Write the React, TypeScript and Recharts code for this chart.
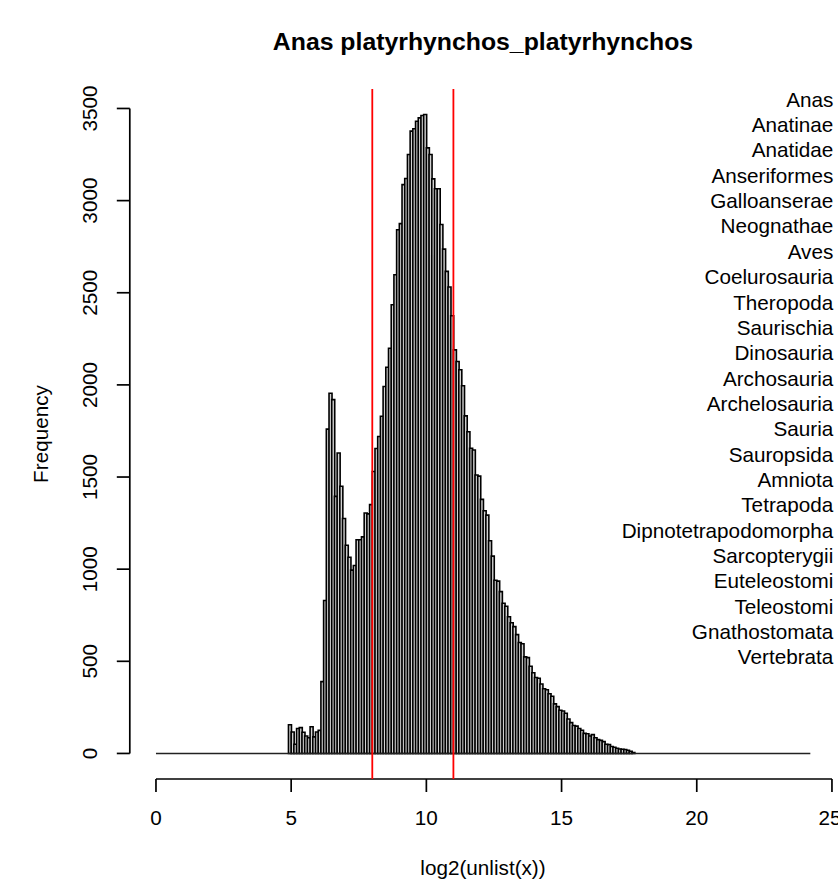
import { BarChart, Bar, XAxis, YAxis, ReferenceLine } from "recharts";

// histogram of log2 values, bins of 0.1 starting at 4.9 (all other bins are empty)
const binStart = 4.9;
const binWidth = 0.1;
const breakRange = [0, 24.2];
const counts = [
  156, 116, 50, 135, 140, 115, 95, 85, 145, 90, 116, 125, // 4.9 - 6.0
  390, 830, 1760, 1955, 1920, 1395, 1630, 1450, 1275, 1130, // 6.1 - 7.0
  1065, 995, 1020, 1160, 1160, 1175, 1305, 1300, 1350, 1530, // 7.1 - 8.0
  1655, 1720, 1830, 1991, 2096, 2199, 2435, 2598, 2842, 2875, // 8.1 - 9.0
  3087, 3120, 3250, 3377, 3390, 3431, 3449, 3462, 3467, 3286, // 9.1 - 10.0
  3250, 3118, 3064, 3064, 2870, 2737, 2616, 2531, 2375, 2190, // 10.1 - 11.0
  2127, 2082, 1995, 1832, 1746, 1656, 1647, 1511, 1505, 1379, // 11.1 - 12.0
  1317, 1293, 1154, 1071, 940, 935, 878, 815, 799, 742, // 12.1 - 13.0
  709, 688, 645, 602, 595, 524, 520, 473, 438, 412, // 13.1 - 14.0
  408, 377, 351, 346, 324, 310, 269, 254, 234, 230, // 14.1 - 15.0
  218, 187, 167, 152, 148, 135, 126, 109, 107, 95, // 15.1 - 16.0
  102, 85, 75, 71, 64, 50, 48, 38, 34, 28, // 16.1 - 17.0
  24, 23, 21, 17, 12, 5, // 17.1 - 17.6
];
const cutoffs = [8, 11];
const xTicks = [0, 5, 10, 15, 20, 25];
const yTicks = [0, 500, 1000, 1500, 2000, 2500, 3000, 3500];
const taxa = [
  "Anas", "Anatinae", "Anatidae", "Anseriformes", "Galloanserae", "Neognathae",
  "Aves", "Coelurosauria", "Theropoda", "Saurischia", "Dinosauria", "Archosauria",
  "Archelosauria", "Sauria", "Sauropsida", "Amniota", "Tetrapoda",
  "Dipnotetrapodomorpha", "Sarcopterygii", "Euteleostomi", "Teleostomi",
  "Gnathostomata", "Vertebrata",
];

const data = counts.map((n, i) => ({
  mid: Number((binStart + binWidth * (i + 0.5)).toFixed(2)),
  n,
}));

const FONT = '"Liberation Sans", Arial, Helvetica, sans-serif';
const FS = 20.7;

const yMax = Math.max(...counts);
const yDomain = [-0.04 * yMax, 1.04 * yMax];
const xSpan = breakRange[1] - breakRange[0];
const xDomain = [breakRange[0] - 0.04 * xSpan, breakRange[1] + 0.04 * xSpan];

function XTick({ x, y, payload }: any) {
  return (
    <text x={x} y={y + 31} textAnchor="middle" fontFamily={FONT} fontSize={FS} fill="#000">
      {payload.value}
    </text>
  );
}

function YTick({ x, y, payload }: any) {
  return (
    <text
      transform={`translate(${x - 18}, ${y}) rotate(-90)`}
      textAnchor="middle"
      fontFamily={FONT}
      fontSize={FS}
      fill="#000"
    >
      {payload.value}
    </text>
  );
}

export default function App() {
  return (
    <div style={{ position: "absolute", left: 0, top: 0, background: "#fff" }}>
      <BarChart
        width={838}
        height={885}
        data={data}
        margin={{ top: 89, right: 1.5, bottom: 0, left: 0 }}
        barCategoryGap={0}
        barGap={0}
      >
        <XAxis
          dataKey="mid"
          type="number"
          domain={xDomain}
          ticks={xTicks}
          allowDataOverflow
          axisLine={false}
          tickLine={{ stroke: "#000", strokeWidth: 1.7 }}
          tickSize={13}
          height={106}
          tick={<XTick />}
        />
        <YAxis
          type="number"
          domain={yDomain}
          ticks={yTicks}
          allowDataOverflow
          axisLine={false}
          tickLine={{ stroke: "#000", strokeWidth: 1.7 }}
          tickSize={13}
          width={129.8}
          tick={<YTick />}
        />
        <Bar dataKey="n" fill="#d3d3d3" stroke="#000" strokeWidth={1.6} isAnimationActive={false} />
        <ReferenceLine
          segment={[{ x: breakRange[0], y: 0 }, { x: breakRange[1], y: 0 }]}
          stroke="#222"
          strokeWidth={1.6}
          ifOverflow="visible"
        />
        <ReferenceLine
          segment={[{ x: xTicks[0], y: yDomain[0] }, { x: xTicks[xTicks.length - 1], y: yDomain[0] }]}
          stroke="#000"
          strokeWidth={1.7}
          ifOverflow="visible"
        />
        <ReferenceLine
          segment={[{ x: xDomain[0], y: yTicks[0] }, { x: xDomain[0], y: yTicks[yTicks.length - 1] }]}
          stroke="#000"
          strokeWidth={1.7}
          ifOverflow="visible"
        />
        {cutoffs.map((c) => (
          <ReferenceLine key={c} x={c} stroke="#ff0000" strokeWidth={1.8} ifOverflow="visible" />
        ))}
        <text x={483} y={50} textAnchor="middle" fontFamily={FONT} fontSize={24.8} fontWeight="bold" fill="#000">
          Anas platyrhynchos_platyrhynchos
        </text>
        <text x={483} y={875} textAnchor="middle" fontFamily={FONT} fontSize={FS} fill="#000">
          log2(unlist(x))
        </text>
        <text
          transform="translate(47.5, 434) rotate(-90)"
          textAnchor="middle"
          fontFamily={FONT}
          fontSize={FS}
          fill="#000"
        >
          Frequency
        </text>
        {taxa.map((t, i) => (
          <text key={t} x={833.3} y={106.7 + 25.35 * i} textAnchor="end" fontFamily={FONT} fontSize={FS} fill="#000">
            {t}
          </text>
        ))}
      </BarChart>
    </div>
  );
}
